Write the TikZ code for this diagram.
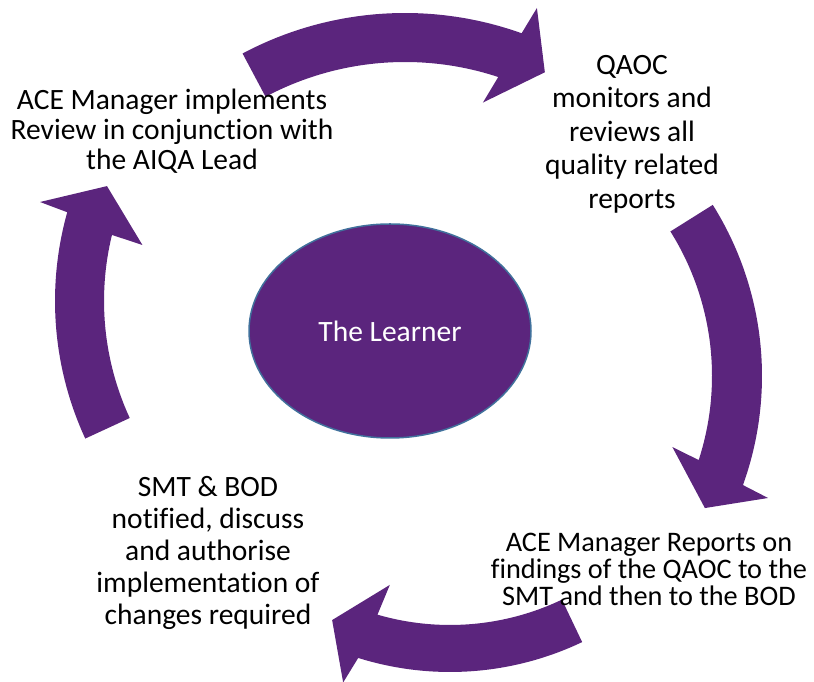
\documentclass[tikz,border=0pt]{standalone}
\usepackage{fontspec}
\setmainfont{Carlito}[Ligatures={NoCommon,NoContextual,NoRequired}]
\usetikzlibrary{shapes.geometric}
\definecolor{cyclepurple}{RGB}{91,37,125}
\definecolor{rimblue}{RGB}{65,113,156}

\begin{document}
\begin{tikzpicture}[x=1pt, y=1pt,
        stage/.style={align=center, text=black},
        learner/.style={ellipse, fill=cyclepurple, draw=rimblue, line width=1.5pt,
            text=white, minimum width=282pt, minimum height=214pt,
            font=\fontsize{29.5}{31}\selectfont},
        bentarrow/.style={fill=cyclepurple}]

    \useasboundingbox (0,0) rectangle (814,682);

    % centres of the four bent arrows
    \coordinate (ct) at (405,323);
    \coordinate (cr) at (440,306);
    \coordinate (cb) at (450,317);
    \coordinate (cl) at (383,381);

    % top arrow
    \fill[bentarrow] ([shift={(118:346)}]ct) arc[start angle=118, end angle=70.3, radius=346]
        -- ([shift={(69.4:375)}]ct) -- ([shift={(64:319)}]ct) -- ([shift={(73.1:268)}]ct)
        -- ([shift={(71.7:297)}]ct) arc[start angle=71.7, end angle=118, radius=297] -- cycle;

    % right arrow
    \fill[bentarrow] ([shift={(32.1:322)}]cr) arc[start angle=32.1, end angle=-19.8, radius=322]
        -- ([shift={(-20.4:350)}]cr) -- ([shift={(-26.5:296)}]cr) -- ([shift={(-17:243)}]cr)
        -- ([shift={(-18:272)}]cr) arc[start angle=-18, end angle=32.1, radius=272] -- cycle;

    % bottom arrow
    \fill[bentarrow] ([shift={(-64.5:307)}]cb) arc[start angle=-64.5, end angle=-107.4, radius=307]
        -- ([shift={(-108.6:335)}]cb) -- ([shift={(-114.8:281)}]cb) -- ([shift={(-105.3:228)}]cb)
        -- ([shift={(-106.2:260)}]cb) arc[start angle=-106.2, end angle=-64.5, radius=260] -- cycle;

    % left arrow
    \fill[bentarrow] ([shift={(204.8:328)}]cl) arc[start angle=204.8, end angle=164.3, radius=328]
        -- ([shift={(163.9:357)}]cl) -- ([shift={(157.4:299)}]cl) -- ([shift={(166.9:247)}]cl)
        -- ([shift={(166.3:279)}]cl) arc[start angle=166.3, end angle=204.8, radius=279] -- cycle;

    \node[learner] (learner) at (390,351) {The Learner};

    \node[stage, font=\fontsize{29.5}{30}\selectfont] (review) at (172,551)
        {ACE Manager implements\\Review in conjunction with\\the AIQA Lead};
    \node[stage, font=\fontsize{29.5}{33.5}\selectfont] (qaoc) at (632,548)
        {QAOC\\monitors and\\reviews all\\quality related\\reports};
    \node[stage, font=\fontsize{28.3}{27}\selectfont] (findings) at (649,113)
        {ACE Manager Reports on\\findings of the QAOC to the\\SMT and then to the BOD};
    \node[stage, font=\fontsize{29.5}{32}\selectfont] (notify) at (208,129)
        {SMT \& BOD\\notified, discuss\\and authorise\\implementation of\\changes required};

\end{tikzpicture}
\end{document}
